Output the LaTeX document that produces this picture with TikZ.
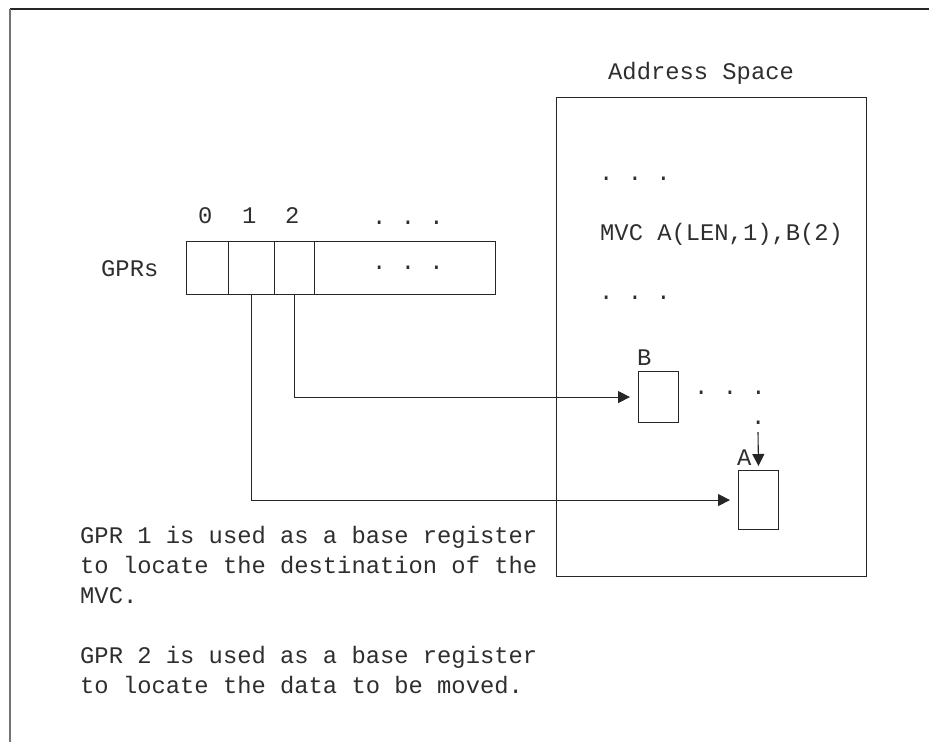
\documentclass[tikz,border=0pt]{standalone}
\usepackage{fontspec}
\setmonofont{Liberation Mono}
\usetikzlibrary{arrows.meta}
\tikzset{
  txt/.style={font=\ttfamily\fontsize{23.8}{30}\selectfont, inner sep=0pt, anchor=base west, text=black!82},
  ln/.style={line width=1.1pt, draw=black!85},
  cell/.style={ln, rectangle, inner sep=0pt, anchor=north west, minimum height=53pt},
  membox/.style={ln, rectangle, inner sep=0pt, anchor=north west},
  arr/.style={ln, -{Triangle[length=12pt,width=12pt]}},
}
\begin{document}
\begin{tikzpicture}[x=1pt,y=-1pt]
\useasboundingbox (0,0) rectangle (929,742);
% frame
\draw[line width=1.2pt, black!85] (929,9) -- (10,9);
\draw[line width=1.6pt, black!55] (10,9) -- (10,742);

% address space
\node[txt] (astitle) at (608,79) {Address Space};
\node[membox, minimum width=310pt, minimum height=479pt] (as) at (556,97) {};
\node[txt] (dotsA) at (599,180) {.\ .\ .};
\node[txt] (mvc) at (600,240) {MVC A(LEN,1),B(2)};
\node[txt] (dotsB) at (599,299) {.\ .\ .};

% B and A areas
\node[membox, minimum width=40pt, minimum height=51pt] (B) at (638,371) {};
\node[txt] (Blab) at (637,365) {B};
\node[txt] (dotsC) at (694,394.5) {.\ .\ .};
\node[txt] (dotD) at (751,424.5) {.};
\node[membox, minimum width=40pt, minimum height=59pt] (A) at (738,470) {};
\node[txt] (Alab) at (737,465) {A};
\coordinate (down) at (758,432);
\draw[arr, shorten >=4pt] (down) -- (A.north);

% GPRs
\node[txt] (gprs) at (101,276) {GPRs};
\node[txt] (n0) at (198,223) {0};
\node[txt] (n1) at (242,223) {1};
\node[txt] (n2) at (285,223) {2};
\node[txt] (ndots) at (372,224.5) {.\ .\ .};
\node[cell, minimum width=42pt] (c0) at (186,241) {};
\node[cell, minimum width=46pt] (c1) at (228,241) {};
\node[cell, minimum width=40pt] (c2) at (274,241) {};
\node[cell, minimum width=181pt] (c3) at (314,241) {};
\node[txt] (cdots) at (372,269) {.\ .\ .};

% connectors
\draw[arr, shorten >=8pt] (c2.south) |- (B.west);
\draw[arr, shorten >=8pt] (c1.south) |- (A.west);

% notes
\node[txt] (t1) at (80,543) {GPR 1 is used as a base register};
\node[txt] (t2) at (80,573) {to locate the destination of the};
\node[txt] (t3) at (80,603) {MVC.};
\node[txt] (t4) at (80,663) {GPR 2 is used as a base register};
\node[txt] (t5) at (80,693) {to locate the data to be moved.};
\end{tikzpicture}
\end{document}
